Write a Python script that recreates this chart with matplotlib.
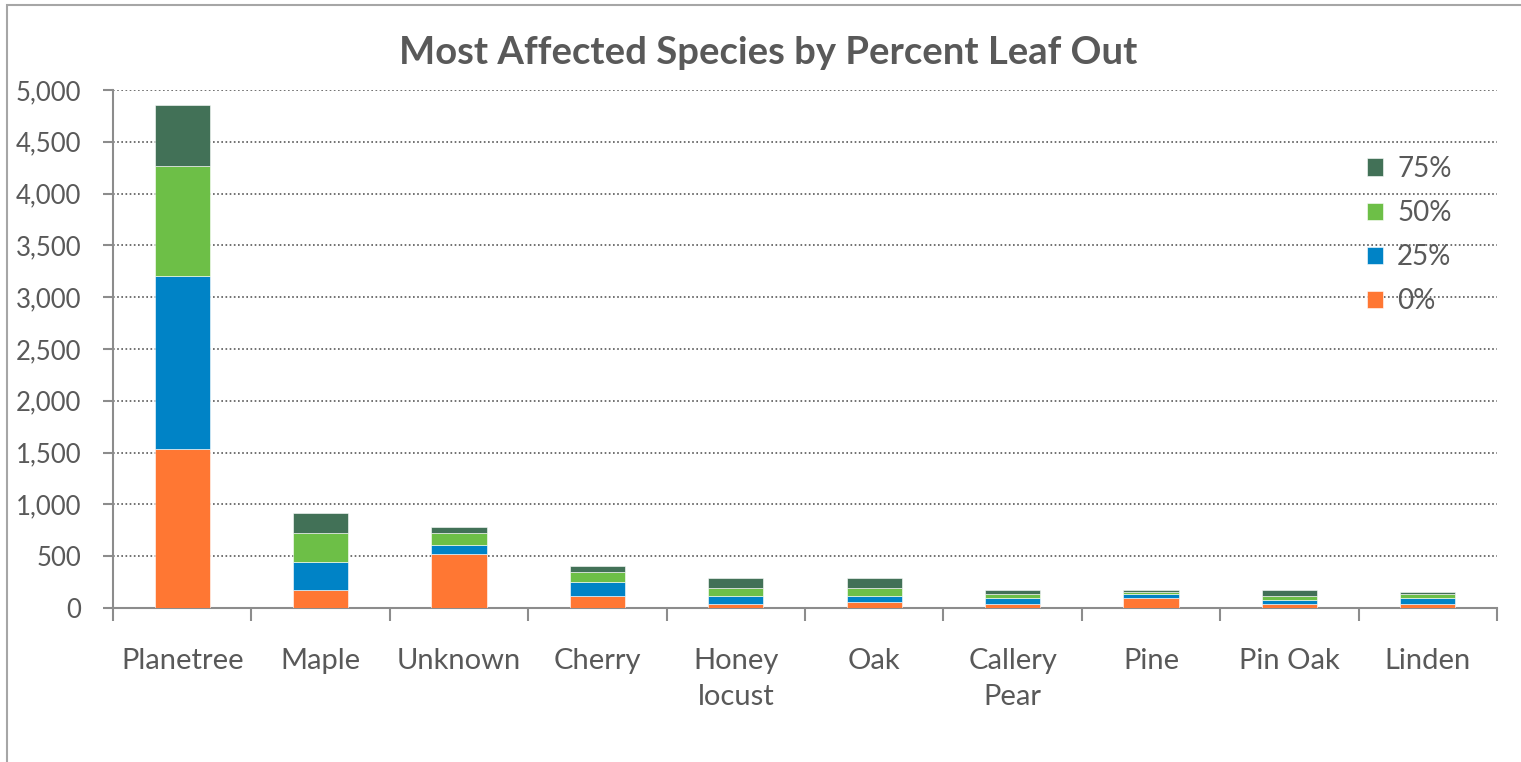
#!/usr/bin/env python3
"""
Most affected species by percent leaf out - stacked bar chart
"""

import matplotlib.pyplot as plt
from matplotlib.patches import Rectangle
from matplotlib.ticker import FuncFormatter, FixedLocator
import numpy as np

plt.rcParams['font.family'] = ['Lato', 'DejaVu Sans']

species = ['Planetree', 'Maple', 'Unknown', 'Cherry', 'Honey\nlocust', 'Oak',
           'Callery\nPear', 'Pine', 'Pin Oak', 'Linden']
leaf_0 = [1535, 178, 518, 119, 42, 61, 42, 100, 42, 42]
leaf_25 = [1670, 263, 93, 129, 74, 55, 54, 35, 35, 54]
leaf_50 = [1060, 287, 117, 96, 77, 77, 39, 23, 39, 39]
leaf_75 = [590, 189, 57, 58, 94, 94, 36, 19, 55, 16]

series = [('0%', leaf_0, '#FF7733'),
          ('25%', leaf_25, '#0083C6'),
          ('50%', leaf_50, '#6DBF47'),
          ('75%', leaf_75, '#427157')]

text_color = '#595959'
axis_color = '#8C8C8C'

fig = plt.figure(figsize=(15.21, 7.62), dpi=100)
ax = fig.add_axes([0.0743, 0.2021, 0.9099, 0.6798])

x = np.arange(len(species))
bottom = np.zeros(len(species))
handles = []
for name, vals, color in series:
    vals = np.array(vals)
    h = ax.bar(x, vals, width=0.4, bottom=bottom, color=color,
               edgecolor='white', linewidth=0.4, label=name, zorder=3)
    handles.append(h)
    bottom += vals

ax.set_xlim(-0.5, len(species) - 0.5)
ax.set_ylim(0, 5000)
ax.set_yticks(np.arange(0, 5001, 500))
ax.yaxis.set_major_formatter(FuncFormatter(lambda v, p: f'{int(v):,}'))
ax.grid(axis='y', linestyle=(0, (1, 1.5)), color='#595959', linewidth=1.2, zorder=0)

# x ticks between categories, labels at centres
ax.set_xticks(x)
ax.set_xticklabels(species, fontsize=21, color=text_color, linespacing=1.45)
ax.tick_params(axis='x', length=0, pad=29)
ax.xaxis.set_minor_locator(FixedLocator(np.arange(-0.5, len(species), 1.0)))
ax.tick_params(axis='x', which='minor', length=9, width=1.5, color=axis_color)
ax.tick_params(axis='y', length=7, width=1.5, color=axis_color,
               labelsize=18.5, labelcolor=text_color, pad=16)

for side in ['top', 'right']:
    ax.spines[side].set_visible(False)
for side in ['left', 'bottom']:
    ax.spines[side].set_color(axis_color)
    ax.spines[side].set_linewidth(1.5)

fig.text(0.505, 0.931, 'Most Affected Species by Percent Leaf Out', ha='center',
         va='center', fontsize=27.5, fontweight='bold', color=text_color)

leg = fig.legend(handles[::-1], [s[0] for s in series][::-1], loc='upper left',
                 bbox_to_anchor=(0.882, 0.828), frameon=False, fontsize=20,
                 labelcolor=text_color, handlelength=0.6, handleheight=0.6,
                 handletextpad=0.5, labelspacing=0.65)

# outer chart frame
fig.patches.append(Rectangle((7 / 1521, -0.05), 1.1, 1.05 - 5 / 762,
                             transform=fig.transFigure, fill=False,
                             edgecolor='#A6A6A6', linewidth=1.5))

fig.savefig('out.png', dpi=100)
plt.close(fig)
